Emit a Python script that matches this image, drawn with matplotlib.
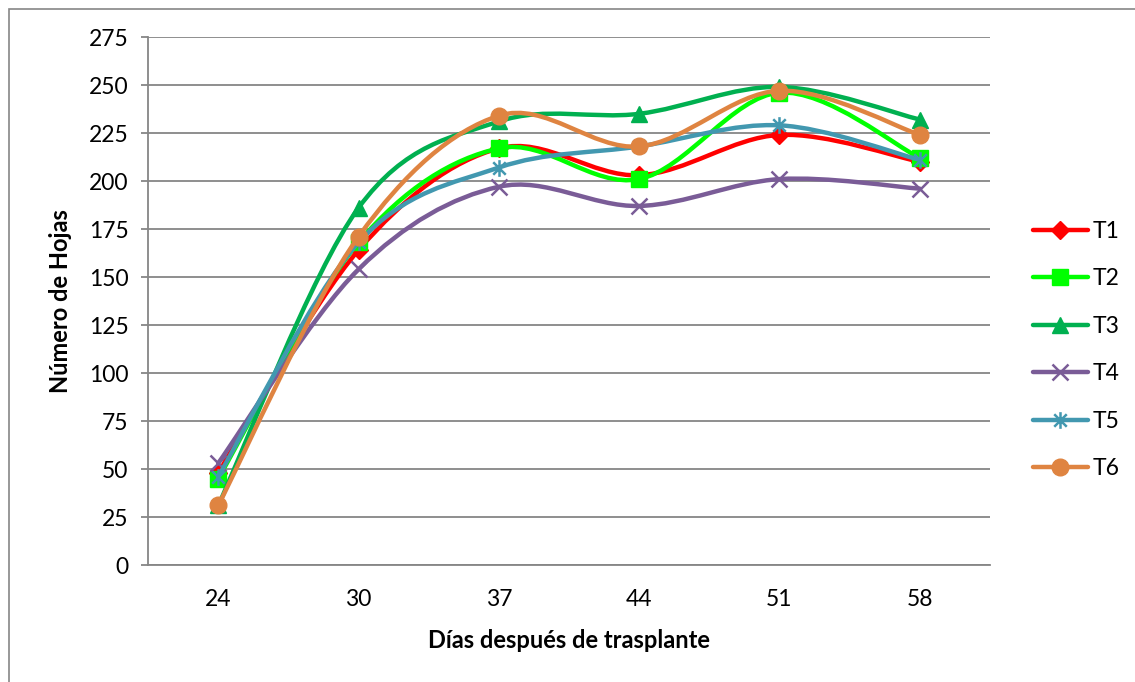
import numpy as np
import matplotlib
matplotlib.use("Agg")
import matplotlib.pyplot as plt
from matplotlib.path import Path
from matplotlib.patches import PathPatch, Rectangle
from matplotlib.lines import Line2D

plt.rcParams['font.family'] = ['Lato', 'DejaVu Sans']

# data
dias = ["24", "30", "37", "44", "51", "58"]
t1 = [48, 164, 217, 203, 224, 210]
t2 = [45, 168, 217, 201, 246, 212]
t3 = [31, 186, 231, 235, 249, 232]
t4 = [53, 154, 197, 187, 201, 196]
t5 = [46, 168, 207, 218, 229, 211]
t6 = [31, 171, 234, 218, 247, 224]
nombres = ["T1", "T2", "T3", "T4", "T5", "T6"]
series = [t1, t2, t3, t4, t5, t6]
colores = ["#FF0000", "#00FF00", "#00B050", "#7A5C97", "#4298B0", "#DF8441"]
y_ticks = list(range(0, 276, 25))

# excel style star: an x with a vertical bar
estrella = Path([(0, -1), (0, 1), (-0.75, -0.75), (0.75, 0.75), (-0.75, 0.75), (0.75, -0.75)],
                [Path.MOVETO, Path.LINETO] * 3)
marcadores = ["D", "s", "^", "x", estrella, "o"]
tamanos = [9, 11, 11, 11, 12, 12]


def smooth_path(x, y):
    """Excel-like smoothed line: cubic bezier through every point"""
    pts = np.column_stack([x, y]).astype(float)
    n = len(pts)
    verts = [pts[0]]
    codes = [Path.MOVETO]
    for i in range(n - 1):
        p0 = pts[i - 1] if i > 0 else pts[i]
        p1 = pts[i]
        p2 = pts[i + 1]
        p3 = pts[i + 2] if i + 2 < n else pts[i + 1]
        c1 = p1 + (p2 - p0) / 6.0
        c2 = p2 - (p3 - p1) / 6.0
        verts += [c1, c2, p2]
        codes += [Path.CURVE4] * 3
    return Path(verts, codes)


def mew_for(m):
    return 1.0 if isinstance(m, str) and m in ("D", "s", "^", "o") else 1.8


fig = plt.figure(figsize=(11.35, 6.82), dpi=100)
ax = fig.add_axes([148 / 1135, 117 / 682, 842 / 1135, 528 / 682])

x = np.arange(len(dias))
for k, (vals, col, mk, ms) in enumerate(zip(series, colores, marcadores, tamanos)):
    patch = PathPatch(smooth_path(x, vals), facecolor="none", edgecolor=col,
                      lw=3.2, capstyle="round", joinstyle="round", zorder=3 + k * 0.1)
    ax.add_patch(patch)
    ax.plot(x, vals, linestyle="none", marker=mk, color=col, markersize=ms,
            markeredgewidth=mew_for(mk), zorder=3.05 + k * 0.1)

ax.set_xlim(-0.5, len(dias) - 0.5)
ax.set_ylim(0, 275)
ax.set_yticks(y_ticks)
ax.set_xticks(x)
ax.set_xticklabels(dias)
ax.tick_params(axis="y", length=5, color="#868686", width=1.3, labelsize=16.5, pad=9)
ax.tick_params(axis="x", length=0, labelsize=16.5, pad=17)
ax.grid(axis="y", color="#868686", lw=1.3)
ax.set_axisbelow(True)
for s in ["top", "right"]:
    ax.spines[s].set_visible(False)
for s in ["left", "bottom"]:
    ax.spines[s].set_color("#868686")
    ax.spines[s].set_linewidth(1.3)

ax.set_xlabel("Días después de trasplante", fontsize=17, fontweight="bold", labelpad=14)
ax.set_ylabel("Número de Hojas", fontsize=17, fontweight="bold", labelpad=12)

handles = [Line2D([0], [0], color=c, lw=3.2, marker=m, markersize=s,
                  markeredgewidth=mew_for(m), solid_capstyle="round")
           for c, m, s in zip(colores, marcadores, tamanos)]
fig.legend(handles, nombres, loc="center left", bbox_to_anchor=(1012 / 1135, 1 - 350 / 682),
           frameon=False, fontsize=16.5, handlelength=2.4, handletextpad=0.2, labelspacing=1.15)

fig.patches.append(Rectangle((9 / 1135, -0.1), 1.2, 1 - 9 / 682 + 0.1, transform=fig.transFigure,
                             fill=False, edgecolor="#868686", lw=1.2))

fig.savefig("out.png", dpi=100)
